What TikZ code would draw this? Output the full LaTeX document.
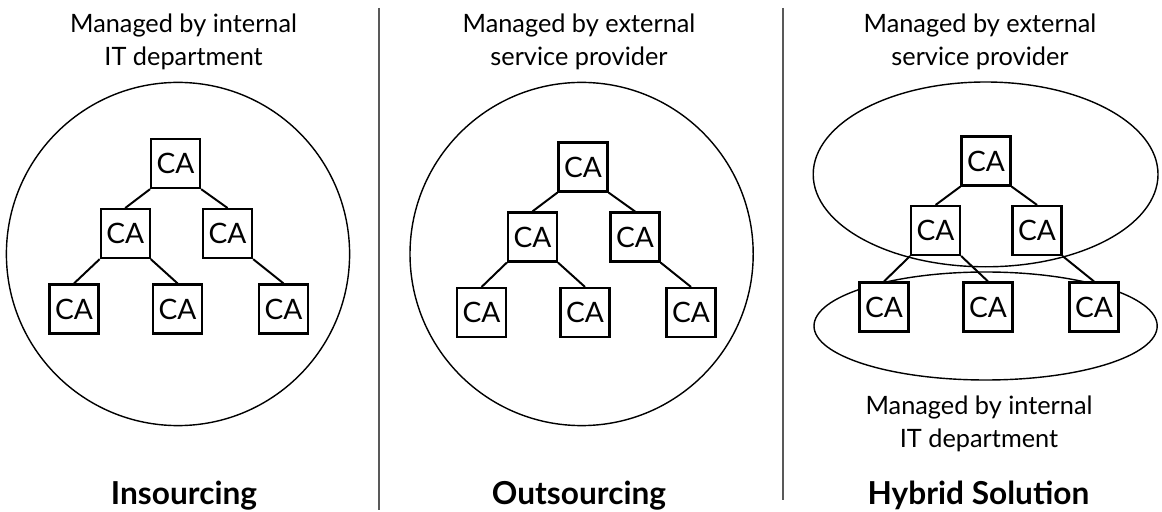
\documentclass[tikz,border=0pt]{standalone}
\usepackage{fontspec}
\setmainfont{Lato}
\usepackage{tikz}
\usetikzlibrary{positioning, shapes, calc}

\begin{document}
\begin{tikzpicture}[
          ca/.style={draw, fill=white, line width=1.5pt, minimum size=1.225cm, inner sep=0pt, font=\fontsize{20}{22}\selectfont},
          zone/.style={draw, line width=1pt, inner sep=0pt},
          link/.style={line width=1.4pt},
          note/.style={align=center, font=\fontsize{18}{23.5}\selectfont, inner sep=0pt},
          title/.style={anchor=base, font=\fontsize{22.5}{26}\selectfont\bfseries, inner sep=0pt},
          sep/.style={black!65, line width=0.9pt}
        ]
        \useasboundingbox (0,0) rectangle (29.05,-12.8);
        % zones
        \node[zone, circle, minimum size=8.58cm] (inzone) at (4.45, -6.35) {};
        \node[zone, circle, minimum size=8.58cm] (outzone) at (14.54, -6.35) {};
        \node[zone, ellipse, minimum width=8.62cm, minimum height=4.62cm] (extzone) at (24.64, -4.36) {};
        \node[zone, ellipse, minimum width=8.58cm, minimum height=2.7cm] (intzone) at (24.64, -8.15) {};
        % insourcing tree
        \node[ca] (a0) at (4.39, -4.09) {CA};
        \node[ca] (a1) at (3.13, -5.84) {CA};
        \node[ca] (a2) at (5.69, -5.84) {CA};
        \node[ca] (a3) at (1.85, -7.725) {CA};
        \node[ca] (a4) at (4.44, -7.725) {CA};
        \node[ca] (a5) at (7.09, -7.725) {CA};
        % outsourcing tree
        \node[ca] (b0) at (14.575, -4.175) {CA};
        \node[ca] (b1) at (13.31, -5.925) {CA};
        \node[ca] (b2) at (15.875, -5.925) {CA};
        \node[ca] (b3) at (12.04, -7.8125) {CA};
        \node[ca] (b4) at (14.625, -7.8125) {CA};
        \node[ca] (b5) at (17.275, -7.8125) {CA};
        % hybrid tree
        \node[ca] (c0) at (24.65, -4.025) {CA};
        \node[ca] (c1) at (23.39, -5.7625) {CA};
        \node[ca] (c2) at (25.925, -5.7625) {CA};
        \node[ca] (c3) at (22.1, -7.675) {CA};
        \node[ca] (c4) at (24.7, -7.675) {CA};
        \node[ca] (c5) at (27.35, -7.675) {CA};
        \draw[link] (a0.south west) -- (a1.north) (a0.south east) -- (a2.north) (a1.south west) -- (a3.north) (a1.south east) -- (a4.north) (a2.south east) -- (a5.north);
        \draw[link] (b0.south west) -- (b1.north) (b0.south east) -- (b2.north) (b1.south west) -- (b3.north) (b1.south east) -- (b4.north) (b2.south east) -- (b5.north);
        \draw[link] (c0.south west) -- (c1.north) (c0.south east) -- (c2.north) (c1.south west) -- (c3.north) (c1.south east) -- (c4.north) (c2.south east) -- (c5.north);
        % labels
        \node[note] (innote) at (4.59, -1.05) {Managed by internal\\IT department};
        \node[note] (outnote) at (14.475, -1.05) {Managed by external\\service provider};
        \node[note] (extnote) at (24.5, -1.05) {Managed by external\\service provider};
        \node[note] (intnote) at (24.475, -10.6) {Managed by internal\\IT department};
        \node[title] (insrc) at (4.6, -12.6) {Insourcing};
        \node[title] (outsrc) at (14.475, -12.6) {Outsourcing};
        \node[title] (hybrid) at (24.46, -12.6) {Hybrid Solution};
        % separators
        \coordinate (s1top) at (9.475, -0.2);
        \coordinate (s1bot) at (9.475, -12.75);
        \coordinate (s2top) at (19.575, -0.2);
        \coordinate (s2bot) at (19.575, -12.5);
        \draw[sep] (s1top) -- (s1bot);
        \draw[sep] (s2top) -- (s2bot);
        \end{tikzpicture}
\end{document}
